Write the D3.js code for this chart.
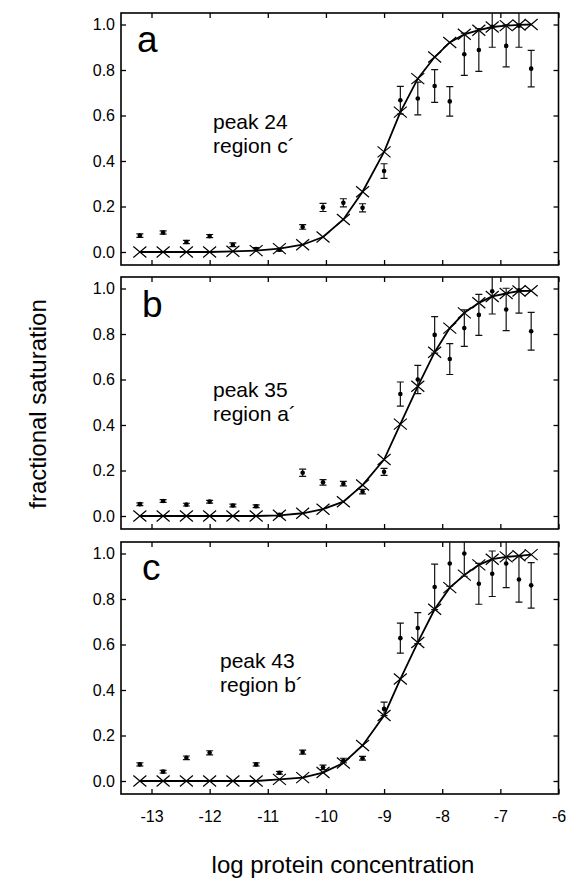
<!DOCTYPE html>
<html>
<head>
<meta charset="utf-8">
<title>fractional saturation</title>
<style>
  body { margin: 0; background: #fff; }
  text { font-family: "Liberation Sans", Arial, sans-serif; fill: #000; }
</style>
<script src="https://d3js.org/d3.v7.min.js"></script>
</head>
<body>
<script>
// log protein concentration of each measurement (same for all panels)
var logConc = [-13.2, -12.8, -12.4, -12.0, -11.6, -11.2, -10.8, -10.4, -10.05, -9.7, -9.37,
               -9.0, -8.72, -8.42, -8.13, -7.87, -7.62, -7.37, -7.14, -6.9, -6.68, -6.47];

// panel a: peak 24, region c'
var fitA = [0, 0, 0, 0, 0.003, 0.006, 0.015, 0.032, 0.066, 0.143, 0.265,
            0.44, 0.615, 0.762, 0.857, 0.921, 0.957, 0.975, 0.989, 0.995, 0.998, 1.0];
var obsA = [0.072, 0.086, 0.044, 0.07, 0.032, 0.013, 0.01, 0.11, 0.196, 0.216, 0.194,
            0.356, 0.667, 0.675, 0.73, 0.662, 0.869, 0.888, 0.99, 0.906, 0.995, 0.806];
var errA = [0.008, 0.007, 0.007, 0.007, 0.008, 0.006, 0.006, 0.01, 0.018, 0.018, 0.018,
            0.032, 0.061, 0.072, 0.072, 0.065, 0.093, 0.094, 0.09, 0.092, 0.095, 0.08];

// panel b: peak 35, region a'
var fitB = [0, 0, 0, 0, 0, 0, 0.003, 0.012, 0.03, 0.063, 0.136,
            0.248, 0.404, 0.57, 0.72, 0.826, 0.893, 0.937, 0.965, 0.978, 0.989, 0.99];
var obsB = [0.052, 0.066, 0.05, 0.063, 0.046, 0.043, 0.005, 0.19, 0.148, 0.142, 0.107,
            0.194, 0.536, 0.6, 0.796, 0.69, 0.826, 0.884, 0.988, 0.908, 0.992, 0.812];
var errB = [0.006, 0.006, 0.006, 0.006, 0.006, 0.006, 0.006, 0.016, 0.012, 0.01, 0.01,
            0.015, 0.053, 0.062, 0.08, 0.068, 0.08, 0.09, 0.1, 0.093, 0.1, 0.083];

// panel c: peak 43, region b'
var fitC = [0, 0, 0, 0, 0, 0, 0.007, 0.015, 0.037, 0.079, 0.156,
            0.288, 0.448, 0.609, 0.755, 0.85, 0.905, 0.95, 0.975, 0.985, 0.99, 0.995];
var obsC = [0.073, 0.041, 0.102, 0.124, null, 0.073, 0.036, 0.127, 0.06, 0.09, 0.1,
            0.317, 0.628, 0.672, 0.853, 0.956, 1.0, 0.867, 0.911, 0.956, 0.886, 0.86];
var errC = [0.007, 0.006, 0.008, 0.009, null, 0.007, 0.006, 0.009, 0.01, 0.01, 0.008,
            0.03, 0.066, 0.068, 0.1, 0.1, 0.1, 0.09, 0.1, 0.106, 0.1, 0.1];

var panelLetters = ["a", "b", "c"];
var peakLabels = ["peak 24", "peak 35", "peak 43"];
var regionLabels = ["region c\u00b4", "region a\u00b4", "region b\u00b4"];
var xTicks = [-13, -12, -11, -10, -9, -8, -7, -6];
var yTicks = [0, 0.2, 0.4, 0.6, 0.8, 1.0];

var panels = [
  {fit: fitA, obs: obsA, err: errA},
  {fit: fitB, obs: obsB, err: errB},
  {fit: fitC, obs: obsC, err: errC}
];

var width = 568, height = 879;
var svg = d3.select("body").append("svg")
    .attr("width", width).attr("height", height);

var left = 121, right = 558.5;
var tops = [13, 277, 542], panelH = 252;
var textPos = [[213, 129, 153], [213, 397, 421], [220, 668, 692]];
var letterPos = [[137, 52], [142, 317], [142, 580]];

var x = d3.scaleLinear().domain([-13, -6]).range([151.5, 558.5]);

panels.forEach(function(p, i) {
  var top = tops[i];
  var y = d3.scaleLinear().domain([0, 1]).range([top + 239, top + 11.5]);
  var g = svg.append("g");

  g.append("clipPath").attr("id", "clip" + i)
    .append("rect").attr("x", left).attr("y", top)
    .attr("width", right - left).attr("height", panelH);

  // axes, ticks pointing inward
  var ax = [
    d3.axisBottom(x).tickValues(xTicks).tickSizeInner(-5).tickSizeOuter(0).tickPadding(17)
      .tickFormat(i == 2 ? function(d) { return String(d); } : ""),
    d3.axisTop(x).tickValues(xTicks).tickSizeInner(-5).tickSizeOuter(0).tickFormat(""),
    d3.axisLeft(y).tickValues(yTicks).tickSizeInner(-5).tickSizeOuter(0).tickPadding(6)
      .tickFormat(d3.format(".1f")),
    d3.axisRight(y).tickValues(yTicks).tickSizeInner(-5).tickSizeOuter(0).tickFormat("")
  ];
  var trans = ["translate(0," + (top + panelH) + ")", "translate(0," + top + ")",
               "translate(" + left + ",0)", "translate(" + right + ",0)"];
  ax.forEach(function(a, k) {
    var ag = g.append("g").attr("transform", trans[k]).call(a);
    ag.select(".domain").remove();
    ag.selectAll(".tick line").attr("stroke", "#000").attr("stroke-width", 1.3);
    ag.selectAll(".tick text").attr("font-family", "Liberation Sans, Arial, sans-serif")
      .attr("font-size", 16).attr("fill", "#000");
  });

  g.append("rect").attr("x", left).attr("y", top)
    .attr("width", right - left).attr("height", panelH)
    .attr("fill", "none").attr("stroke", "#000").attr("stroke-width", 1.6);

  var plot = g.append("g").attr("clip-path", "url(#clip" + i + ")");

  // fitted curve
  var line = d3.line()
    .x(function(d, j) { return x(logConc[j]); })
    .y(function(d) { return y(d); });
  plot.append("path").datum(p.fit).attr("d", line)
    .attr("fill", "none").attr("stroke", "#000").attr("stroke-width", 1.8);

  // crosses
  plot.selectAll(".cross").data(p.fit).enter().append("path")
    .attr("class", "cross")
    .attr("transform", function(d, j) { return "translate(" + x(logConc[j]) + "," + y(d) + ")"; })
    .attr("d", "M-6.5,-5.5L6.5,5.5M-6.5,5.5L6.5,-5.5")
    .attr("stroke", "#000").attr("stroke-width", 1.2).attr("fill", "none");

  // measured points with error bars
  var pts = p.obs.map(function(v, j) { return {x: logConc[j], v: v, e: p.err[j]}; })
    .filter(function(d) { return d.v != null; });
  var bars = plot.selectAll(".bar").data(pts).enter().append("g").attr("class", "bar")
    .attr("stroke", "#111").attr("stroke-width", 1.2);
  bars.append("line")
    .attr("x1", function(d) { return x(d.x); }).attr("x2", function(d) { return x(d.x); })
    .attr("y1", function(d) { return y(d.v - d.e); }).attr("y2", function(d) { return y(d.v + d.e); });
  bars.append("line")
    .attr("x1", function(d) { return x(d.x) - 3.5; }).attr("x2", function(d) { return x(d.x) + 3.5; })
    .attr("y1", function(d) { return y(d.v - d.e); }).attr("y2", function(d) { return y(d.v - d.e); });
  bars.append("line")
    .attr("x1", function(d) { return x(d.x) - 3.5; }).attr("x2", function(d) { return x(d.x) + 3.5; })
    .attr("y1", function(d) { return y(d.v + d.e); }).attr("y2", function(d) { return y(d.v + d.e); });
  plot.selectAll(".dot").data(pts).enter().append("circle")
    .attr("cx", function(d) { return x(d.x); }).attr("cy", function(d) { return y(d.v); })
    .attr("r", 2.3).attr("fill", "#000");

  g.append("text").attr("x", letterPos[i][0]).attr("y", letterPos[i][1])
    .attr("font-size", 37).text(panelLetters[i]);
  g.append("text").attr("x", textPos[i][0]).attr("y", textPos[i][1])
    .attr("font-size", 21).text(peakLabels[i]);
  g.append("text").attr("x", textPos[i][0]).attr("y", textPos[i][2])
    .attr("font-size", 21).text(regionLabels[i]);
});

svg.append("text").attr("x", 343).attr("y", 873).attr("text-anchor", "middle")
  .attr("font-size", 24).text("log protein concentration");
svg.append("text").attr("transform", "translate(46,404) rotate(-90)")
  .attr("text-anchor", "middle").attr("font-size", 24).text("fractional saturation");
</script>
</body>
</html>
